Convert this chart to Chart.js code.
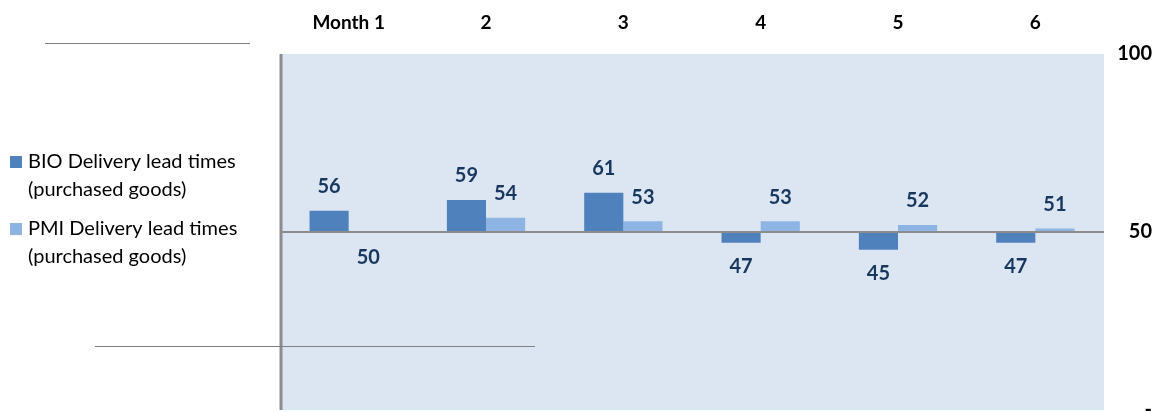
<!DOCTYPE html>
<html>
<head>
<meta charset="utf-8">
<script src="https://cdn.jsdelivr.net/npm/chart.js@4.4.0/dist/chart.umd.min.js"></script>
<style>
  html, body { margin: 0; padding: 0; background: #fff; }
  #wrap { width: 1174px; height: 412px; }
</style>
</head>
<body>
<div id="wrap"><canvas id="leadTimes" width="1174" height="412"></canvas></div>
<script>
// categories and series (index base = 50)
const months = ["Month 1", "2", "3", "4", "5", "6"];
const bioValues = [56, 59, 61, 47, 45, 47];
const pmiValues = [49.7, 54, 53, 53, 52, 51];
const legendBio = ["BIO Delivery lead times", "(purchased goods)"];
const legendPmi = ["PMI Delivery lead times", "(purchased goods)"];
const yTicks = [0, 50, 100];

const colBio = "#4f81bd";
const colPmi = "#8eb4e3";
const fontFam = "Lato, 'Open Sans', sans-serif";

// fond bleu + ligne verticale gauche + traits gris decoratifs
const decorPlugin = {
	id: "decor",
	beforeDraw(chart) {
		const ctx = chart.ctx, a = chart.chartArea;
		ctx.save();
		ctx.fillStyle = "#dce6f2";
		ctx.fillRect(a.left, a.top, a.right - a.left, a.bottom - a.top);
		ctx.restore();
	},
	afterDraw(chart) {
		const ctx = chart.ctx, a = chart.chartArea;
		ctx.save();
		ctx.strokeStyle = "#8c8c8c";
		ctx.lineWidth = 3;
		ctx.beginPath();
		ctx.moveTo(a.left + 1, a.top);
		ctx.lineTo(a.left + 1, a.bottom);
		ctx.stroke();
		ctx.lineWidth = 1;
		ctx.strokeStyle = "#808080";
		ctx.beginPath();
		ctx.moveTo(45, 43.5); ctx.lineTo(250, 43.5);
		ctx.moveTo(95, 346.5); ctx.lineTo(535, 346.5);
		ctx.stroke();

		// legende a gauche
		ctx.font = "20px " + fontFam;
		ctx.textBaseline = "middle";
		ctx.fillStyle = colBio;
		ctx.fillRect(10, 156, 12, 12);
		ctx.fillStyle = colPmi;
		ctx.fillRect(10, 223, 12, 12);
		ctx.fillStyle = "#000";
		ctx.fillText(legendBio[0], 28, 162);
		ctx.fillText(legendBio[1], 28, 190);
		ctx.fillText(legendPmi[0], 28, 229);
		ctx.fillText(legendPmi[1], 28, 257);
		ctx.restore();
	}
};

// etiquettes de valeurs au-dessus / en-dessous des barres
const valeursPlugin = {
	id: "valeurs",
	afterDatasetsDraw(chart) {
		const ctx = chart.ctx;
		ctx.save();
		ctx.font = "bold 20px " + fontFam;
		ctx.fillStyle = "#17375e";
		ctx.textAlign = "center";
		ctx.textBaseline = "middle";
		chart.data.datasets.forEach((ds, i) => {
			chart.getDatasetMeta(i).data.forEach((bar, j) => {
				const v = ds.data[j];
				const txt = Math.round(v);
				if (v > 50) ctx.fillText(txt, bar.x, bar.y - 24);
				else ctx.fillText(txt, bar.x, Math.max(bar.y, bar.base) + 24);
			});
		});
		ctx.restore();
	}
};

new Chart(document.getElementById("leadTimes"), {
	type: "bar",
	data: {
		labels: months,
		datasets: [
			{ label: legendBio.join(" "), data: bioValues, base: 50, backgroundColor: colBio, borderWidth: 0 },
			{ label: legendPmi.join(" "), data: pmiValues, base: 50, backgroundColor: colPmi, borderWidth: 0 }
		]
	},
	options: {
		responsive: false,
		animation: false,
		layout: { padding: { left: 280, right: 22, top: 0, bottom: 2 } },
		datasets: { bar: { categoryPercentage: 0.57, barPercentage: 1 } },
		plugins: { legend: { display: false }, tooltip: { enabled: false } },
		scales: {
			x: {
				position: "top",
				grid: { display: false },
				border: { display: false },
				ticks: { color: "#000", font: { family: fontFam, size: 19, weight: "bold" }, padding: 12 },
				afterFit(s) { s.height = 54; }
			},
			y: {
				position: "right",
				min: 0, max: 100,
				afterBuildTicks(s) { s.ticks = yTicks.map(v => ({ value: v })); },
				ticks: {
					color: "#000",
					crossAlign: "far",
					font: { family: fontFam, size: 20, weight: "bold" },
					callback: v => v === 0 ? "-" : v
				},
				grid: {
					drawTicks: false,
					lineWidth: 2,
					color: c => c.tick && c.tick.value === 50 ? "#8c8c8c" : "rgba(0,0,0,0)"
				},
				border: { display: false },
				afterFit(s) { s.width = 48; s.paddingTop = 0; s.paddingBottom = 0; }
			}
		}
	},
	plugins: [decorPlugin, valeursPlugin]
});
</script>
</body>
</html>
